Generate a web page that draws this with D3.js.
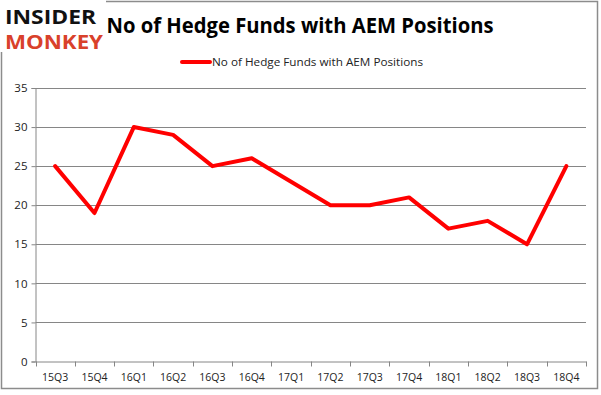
<!DOCTYPE html>
<html>
<head>
<meta charset="utf-8">
<script src="https://cdn.jsdelivr.net/npm/d3@7"></script>
<style>
  body { margin: 0; background: #fff; }
  text { font-family: "Open Sans", "DejaVu Sans", sans-serif; }
</style>
</head>
<body>
<div id="chart"></div>
<script>
const quarters = ["15Q3", "15Q4", "16Q1", "16Q2", "16Q3", "16Q4", "17Q1", "17Q2", "17Q3", "17Q4", "18Q1", "18Q2", "18Q3", "18Q4"];
const funds = [25, 19, 30, 29, 25, 26, 23, 20, 20, 21, 17, 18, 15, 25];
const yTicks = [0, 5, 10, 15, 20, 25, 30, 35];

const width = 601;
const height = 395;
const plot = { left: 35.5, right: 586, top: 88, bottom: 361.5 };

const svg = d3.select("#chart")
    .append("svg")
    .attr("width", width)
    .attr("height", height);

// Outer frame
svg.append("rect")
    .attr("x", 1.5).attr("y", 1.5)
    .attr("width", 596).attr("height", 387)
    .attr("fill", "#fff")
    .attr("stroke", "#8c8c8c")
    .attr("stroke-width", 1.5);

const x = d3.scaleBand()
    .domain(quarters)
    .range([plot.left, plot.right]);

const y = d3.scaleLinear()
    .domain([0, 35])
    .range([plot.bottom, plot.top]);

// Gridlines
svg.append("g")
    .selectAll("line")
    .data(yTicks.filter(d => d > 0))
  .enter().append("line")
    .attr("x1", plot.left).attr("x2", plot.right)
    .attr("y1", d => Math.round(y(d)) + 0.5).attr("y2", d => Math.round(y(d)) + 0.5)
    .attr("stroke", "#868686")
    .attr("stroke-width", 1);

// Y axis
const yAxis = svg.append("g")
    .attr("transform", `translate(${plot.left},0)`)
    .call(d3.axisLeft(y).tickValues(yTicks).tickSize(4).tickPadding(4));
yAxis.select(".domain").attr("stroke", "#868686");
yAxis.selectAll(".tick line").attr("stroke", "#868686");
yAxis.selectAll("text").attr("font-size", 11.5).attr("fill", "#222");

// X axis
const xAxis = svg.append("g")
    .attr("transform", `translate(0,${plot.bottom})`)
    .call(d3.axisBottom(x).tickSize(0).tickPadding(12));
xAxis.select(".domain").attr("stroke", "#868686");
xAxis.selectAll("text").attr("font-size", 10.5).attr("fill", "#222");

// X tick marks at band edges
svg.append("g")
    .selectAll("line")
    .data(quarters.concat(["end"]))
  .enter().append("line")
    .attr("x1", (d, i) => Math.round(plot.left + i * x.bandwidth()) + 0.5)
    .attr("x2", (d, i) => Math.round(plot.left + i * x.bandwidth()) + 0.5)
    .attr("y1", plot.bottom).attr("y2", plot.bottom + 5)
    .attr("stroke", "#868686");

// Line
const line = d3.line()
    .x((d, i) => x(quarters[i]) + x.bandwidth() / 2)
    .y(d => y(d));

svg.append("path")
    .datum(funds)
    .attr("d", line)
    .attr("fill", "none")
    .attr("stroke", "#ff0000")
    .attr("stroke-width", 4)
    .attr("stroke-linejoin", "round")
    .attr("stroke-linecap", "round");

// Title
svg.append("text")
    .attr("x", 300).attr("y", 33)
    .attr("text-anchor", "middle")
    .attr("font-size", 21)
    .attr("font-weight", "bold")
    .attr("textLength", 387)
    .attr("lengthAdjust", "spacingAndGlyphs")
    .text("No of Hedge Funds with AEM Positions");

// Legend
svg.append("line")
    .attr("x1", 182).attr("x2", 210)
    .attr("y1", 62).attr("y2", 62)
    .attr("stroke", "#ff0000")
    .attr("stroke-width", 4)
    .attr("stroke-linecap", "round");
svg.append("text")
    .attr("x", 212).attr("y", 66)
    .attr("font-size", 11.5)
    .attr("fill", "#222")
    .attr("textLength", 211)
    .attr("lengthAdjust", "spacingAndGlyphs")
    .text("No of Hedge Funds with AEM Positions");

// Logo
svg.append("rect")
    .attr("x", 0).attr("y", 0)
    .attr("width", 106).attr("height", 52)
    .attr("fill", "#fff");
svg.append("text")
    .attr("transform", "translate(5,24) scale(1,1.2)")
    .attr("font-family", "DejaVu Sans")
    .attr("font-weight", "bold")
    .attr("font-size", 16)
    .attr("fill", "#111")
    .attr("textLength", 91)
    .attr("lengthAdjust", "spacingAndGlyphs")
    .text("INSIDER");
svg.append("text")
    .attr("transform", "translate(5,49) scale(1,1.2)")
    .attr("font-family", "DejaVu Sans")
    .attr("font-weight", "bold")
    .attr("font-size", 16)
    .attr("fill", "#d9412b")
    .attr("textLength", 98)
    .attr("lengthAdjust", "spacingAndGlyphs")
    .text("MONKEY");
</script>
</body>
</html>
